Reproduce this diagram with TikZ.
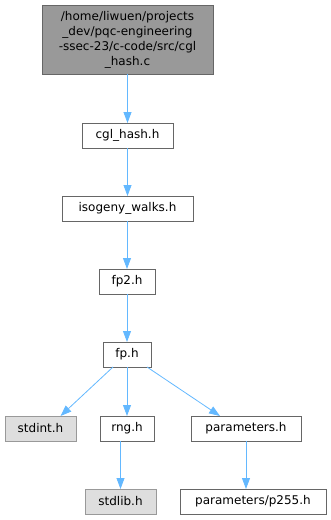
\documentclass[tikz,border=0pt]{standalone}
\usepackage{fontspec}
\setmainfont{DejaVu Sans}
\usetikzlibrary{arrows.meta}
\definecolor{edgeblue}{HTML}{63B8FF}
\definecolor{boxline}{HTML}{666666}
\definecolor{rootfill}{HTML}{999999}
\definecolor{extfill}{HTML}{DEDEDE}
\definecolor{extline}{HTML}{999999}
\begin{document}
\begin{tikzpicture}[x=1pt,y=-1pt,
  every node/.style={font=\fontsize{12}{15}\selectfont, inner sep=0pt, outer sep=0pt},
  file/.style={draw=boxline, line width=1pt, fill=white, minimum height=25pt},
  extfile/.style={draw=extline, line width=1pt, fill=extfill, minimum height=25pt},
  rootfile/.style={draw=boxline, line width=1pt, fill=rootfill, minimum height=69pt, minimum width=171pt, align=center},
  dep/.style={draw=edgeblue, line width=0.8pt, -{Triangle[length=11pt,width=8pt]}}]
  \useasboundingbox (0,0) rectangle (331,520);

  \node[rootfile] (root) at (127.5,39.5) {/home/liwuen/projects\\\_dev/pqc-engineering\\-ssec-23/c-code/src/cgl\\\_hash.c};
  \node[file, minimum width=91pt] (cgl) at (127.5,135.5) {cgl\_hash.h};
  \node[file, minimum width=131pt] (iso) at (127.5,208.5) {isogeny\_walks.h};
  \node[file, minimum width=56pt] (fptwo) at (127,281.5) {fp2.h};
  \node[file, minimum width=48pt] (fp) at (127,354.5) {fp.h};
  \node[extfile, minimum width=71pt] (stdint) at (40.5,428.5) {stdint.h};
  \node[file, minimum width=54pt] (rng) at (127,428.5) {rng.h};
  \node[file, minimum width=110pt] (params) at (246,428.5) {parameters.h};
  \node[extfile, minimum width=71pt] (stdlib) at (120.5,501.5) {stdlib.h};
  \node[file, minimum width=146pt] (p255) at (253,501.5) {parameters/p255.h};

  \draw[dep] (root) -- (cgl);
  \draw[dep] (cgl) -- (iso);
  \draw[dep] (iso.south -| fptwo) -- (fptwo);
  \draw[dep] (fptwo) -- (fp);
  \draw[dep] (fp.south west) ++(10,0) -- ([xshift=20pt]stdint.north);
  \draw[dep] (fp) -- (rng);
  \draw[dep] (fp.south east) ++(-4,0) -- ([xshift=-26pt]params.north);
  \draw[dep] (rng.south -| stdlib) -- (stdlib);
  \draw[dep] (params.south) -- (params.south |- p255.north);
\end{tikzpicture}
\end{document}
